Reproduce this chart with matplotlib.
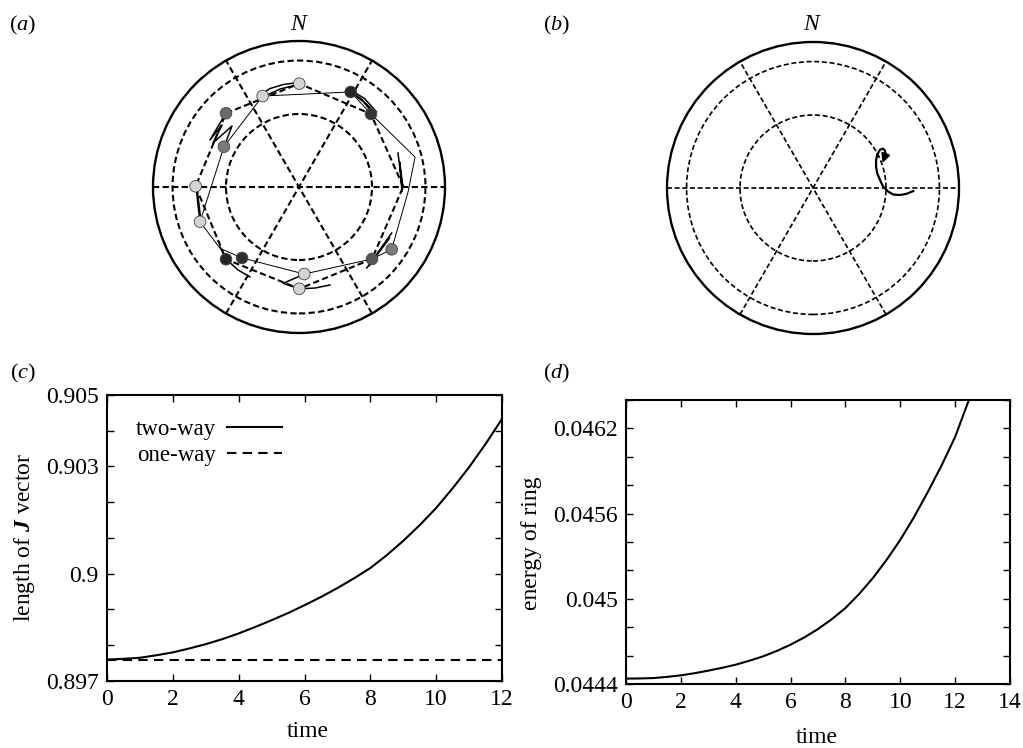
import numpy as np
import matplotlib
matplotlib.use("Agg")
import matplotlib.pyplot as plt
from matplotlib.patches import Circle
from matplotlib.ticker import FixedLocator, FixedFormatter

plt.rcParams['font.family'] = ['Liberation Serif', 'DejaVu Serif']
plt.rcParams['mathtext.fontset'] = 'custom'
plt.rcParams['mathtext.rm'] = 'Liberation Serif'
plt.rcParams['mathtext.it'] = 'Liberation Serif:italic'
plt.rcParams['mathtext.bf'] = 'Liberation Serif:bold'
try:
    plt.rcParams['mathtext.bfit'] = 'Liberation Serif:italic:bold'
except KeyError:
    pass

# ---------------- data: panel (a) ----------------
# initial ring configuration (dashed polygon), unit-disk coordinates
ring0_x = [0.714, 0.493, 0.002, -0.500, -0.708, -0.500, 0.002, 0.500, 0.714]
ring0_y = [0.002, 0.500, 0.708, 0.505, 0.005, -0.495, -0.697, -0.493, 0.002]
# later configuration (thin solid polygon)
ring1_x = [-0.249, 0.354, 0.493, 0.795, 0.747, 0.635, 0.500, 0.036, -0.390, -0.541, -0.678, -0.514, -0.249]
ring1_y = [0.623, 0.651, 0.500, 0.205, -0.034, -0.427, -0.493, -0.596, -0.486, -0.420, -0.238, 0.276, 0.623]
# vortex markers
mark_x = [0.002, -0.249, -0.708, -0.678, 0.036, 0.002,
          0.354, 0.493, -0.500, -0.390, 0.500,
          -0.500, -0.514, 0.635]
mark_y = [0.708, 0.623, 0.005, -0.238, -0.596, -0.697,
          0.651, 0.500, -0.495, -0.486, -0.493,
          0.505, 0.276, -0.427]
mark_shade = ['#d4d4d4'] * 6 + ['#262626', '#333333', '#262626', '#303030', '#555555'] + \
             ['#6a6a6a', '#7a7a7a', '#7a7a7a']
# short trajectories
trajs = [
    ([-0.267, -0.199, -0.108, -0.016], [0.630, 0.674, 0.702, 0.714]),
    ([-0.247, -0.130, -0.014], [0.616, 0.671, 0.699]),
    ([0.350, 0.430, 0.520], [0.660, 0.600, 0.510]),
    ([0.360, 0.440, 0.510], [0.645, 0.585, 0.500]),
    ([0.345, 0.450, 0.530], [0.670, 0.605, 0.515]),
    ([-0.500, -0.610, -0.527, -0.589, -0.459, -0.514], [0.507, 0.322, 0.425, 0.301, 0.418, 0.274]),
    ([0.678, 0.705, 0.712, 0.690, 0.705], [0.233, 0.020, 0.000, 0.170, -0.030]),
    ([0.635, 0.464], [-0.315, -0.555]),
    ([0.620, 0.480], [-0.350, -0.540]),
    ([0.002, 0.110, 0.212], [-0.697, -0.692, -0.671]),
    ([0.036, -0.108, 0.002], [-0.596, -0.660, -0.697]),
    ([-0.500, -0.418, -0.336], [-0.493, -0.568, -0.616]),
    ([-0.541, -0.500], [-0.411, -0.493]),
    ([-0.705, -0.692, -0.678], [0.007, -0.123, -0.238]),
    ([-0.700, -0.685, -0.672], [0.000, -0.120, -0.230]),
]

# ---------------- data: panel (b) ----------------
trajb_x = [0.687, 0.640, 0.596, 0.550, 0.516, 0.480, 0.459, 0.440, 0.432, 0.432,
           0.440, 0.459, 0.478, 0.492, 0.498, 0.490, 0.476]
trajb_y = [-0.021, -0.040, -0.048, -0.045, -0.025, 0.010, 0.055, 0.100, 0.146, 0.190,
           0.230, 0.262, 0.270, 0.258, 0.232, 0.200, 0.172]

# ---------------- data: panel (c) ----------------
t_c = [0, 0.5, 1, 1.5, 2, 2.5, 3, 3.5, 4, 4.5, 5, 5.5, 6, 6.5, 7, 7.5, 8,
       8.5, 9, 9.5, 10, 10.5, 11, 11.5, 12]
J_two = [0.89760, 0.89762, 0.89765, 0.89772, 0.89780, 0.89791, 0.89803, 0.89817,
         0.89833, 0.89851, 0.89870, 0.89890, 0.89912, 0.89935, 0.89960, 0.89987,
         0.90016, 0.90052, 0.90092, 0.90136, 0.90184, 0.90239, 0.90298, 0.90363,
         0.90433]
t_one = [0, 12]
J_one = [0.89760, 0.89760]
c_yticks = [0.897, 0.898, 0.899, 0.900, 0.901, 0.902, 0.903, 0.904, 0.905]
c_ylabels = ['0.897', '', '', '0.9', '', '', '0.903', '', '0.905']
c_xticks = [0, 2, 4, 6, 8, 10, 12]

# ---------------- data: panel (d) ----------------
t_d = [0, 0.5, 1, 1.5, 2, 2.5, 3, 3.5, 4, 4.5, 5, 5.5, 6, 6.5, 7, 7.5, 8,
       8.5, 9, 9.5, 10, 10.5, 11, 11.5, 12, 12.5]
E_ring = [0.044438, 0.044439, 0.044442, 0.044450, 0.044461, 0.044476, 0.044494,
          0.044514, 0.044536, 0.044564, 0.044595, 0.044633, 0.044677, 0.044728,
          0.044787, 0.044856, 0.044935, 0.045034, 0.045146, 0.045274, 0.045415,
          0.045575, 0.045751, 0.045937, 0.046140, 0.046400]
d_yticks = [0.0444, 0.0446, 0.0448, 0.0450, 0.0452, 0.0454, 0.0456, 0.0458,
            0.0460, 0.0462, 0.0464]
d_ylabels = ['0.0444', '', '', '0.045', '', '', '0.0456', '', '', '0.0462', '']
d_xticks = [0, 2, 4, 6, 8, 10, 12, 14]

W, H = 1023, 748
fig = plt.figure(figsize=(W / 100, H / 100), dpi=100)


def disk_axes(cx, cy, lw_dash):
    R = 146.0
    half = 1.03 * R
    ax = fig.add_axes([(cx - half) / W, (H - (cy + half)) / H, 2 * half / W, 2 * half / H])
    ax.set_xlim(-1.03, 1.03)
    ax.set_ylim(-1.03, 1.03)
    ax.axis('off')
    ax.add_patch(Circle((0, 0), 1.0, fill=False, lw=1.7, color='black'))
    dash = (0, (3.0, 1.6))
    for r in (0.5, 0.866):
        ax.add_patch(Circle((0, 0), r, fill=False, lw=lw_dash, color='black', linestyle=dash))
    for ang in (0.0, 60.0, 120.0):
        a = np.deg2rad(ang)
        ax.plot([-np.cos(a), np.cos(a)], [-np.sin(a), np.sin(a)], color='black',
                lw=lw_dash, linestyle=dash)
    return ax


# panel (a)
axa = disk_axes(299, 187, 1.5)
axa.plot(ring0_x, ring0_y, color='black', lw=1.5, linestyle=(0, (3.0, 1.6)), zorder=3)
axa.plot(ring1_x, ring1_y, color='black', lw=0.7, zorder=3)
for tx, ty in trajs:
    axa.plot(tx, ty, color='black', lw=1.1, zorder=3)
axa.scatter(mark_x, mark_y, s=70, c=mark_shade, edgecolors='#444444', linewidths=0.6, zorder=5)

# panel (b)
axb = disk_axes(813, 188, 1.2)
axb.plot(trajb_x[:-1], trajb_y[:-1], color='black', lw=1.6, zorder=3)
axb.annotate('', xy=(trajb_x[-1], trajb_y[-1]), xytext=(trajb_x[-3], trajb_y[-3]),
             arrowprops=dict(arrowstyle='-|>', color='black', lw=1.4, mutation_scale=13,
                             shrinkA=0, shrinkB=0))

fig.text(23 / W, 1 - 25 / H, r'($\mathit{a}$)', fontsize=16, ha='center', va='center')
fig.text(300 / W, 1 - 25 / H, r'$N$', fontsize=17, ha='center', va='center')
fig.text(557 / W, 1 - 25 / H, r'($\mathit{b}$)', fontsize=16, ha='center', va='center')
fig.text(813 / W, 1 - 25 / H, r'$N$', fontsize=17, ha='center', va='center')
fig.text(23 / W, 1 - 373 / H, r'($\mathit{c}$)', fontsize=16, ha='center', va='center')
fig.text(557 / W, 1 - 373 / H, r'($\mathit{d}$)', fontsize=16, ha='center', va='center')


def style_axes(ax):
    for s in ax.spines.values():
        s.set_linewidth(1.5)
    ax.tick_params(direction='in', top=True, right=True, length=5, width=1,
                   labelsize=17, pad=6)


# panel (c)
axc = fig.add_axes([107 / W, (H - 681) / H, 395 / W, 286 / H])
axc.plot(t_c, J_two, color='black', lw=1.5, label='two-way')
axc.plot(t_one, J_one, color='black', lw=1.5, linestyle=(0, (4.5, 3.0)), label='one-way')
axc.set_xlim(0, 12)
axc.set_ylim(0.897, 0.905)
axc.yaxis.set_major_locator(FixedLocator(c_yticks))
axc.yaxis.set_major_formatter(FixedFormatter(c_ylabels))
axc.xaxis.set_major_locator(FixedLocator(c_xticks))
axc.set_xticklabels([str(v) for v in c_xticks])
style_axes(axc)
try:
    axc.set_ylabel(r'length of $\mathbfit{J}$ vector', fontsize=17)
    fig.canvas.draw()
except Exception:
    axc.set_ylabel(r'length of $\mathbf{J}$ vector', fontsize=17)
axc.yaxis.set_label_coords(-0.2076, 0.503)
axc.yaxis.label.set_va('center')
axc.set_xlabel('time', fontsize=17)
axc.xaxis.set_label_coords(0.509, -0.178)
axc.xaxis.label.set_va('center')
axc.legend(loc='upper left', bbox_to_anchor=(0.072, 0.915), markerfirst=False, frameon=False,
           handlelength=2.4, handletextpad=0.5, labelspacing=0.2, borderpad=0,
           borderaxespad=0, fontsize=16.5)

# panel (d)
axd = fig.add_axes([626 / W, (H - 684) / H, 384 / W, 284 / H])
axd.plot(t_d, E_ring, color='black', lw=1.5)
axd.set_xlim(0, 14)
axd.set_ylim(0.0444, 0.0464)
axd.yaxis.set_major_locator(FixedLocator(d_yticks))
axd.yaxis.set_major_formatter(FixedFormatter(d_ylabels))
axd.xaxis.set_major_locator(FixedLocator(d_xticks))
axd.set_xticklabels([str(v) for v in d_xticks])
style_axes(axd)
axd.set_ylabel('energy of ring', fontsize=17)
axd.yaxis.set_label_coords(-0.245, 0.496)
axd.yaxis.label.set_va('center')
axd.set_xlabel('time', fontsize=17)
axd.xaxis.set_label_coords(0.497, -0.19)
axd.xaxis.label.set_va('center')

fig.savefig('out.png', dpi=100)
